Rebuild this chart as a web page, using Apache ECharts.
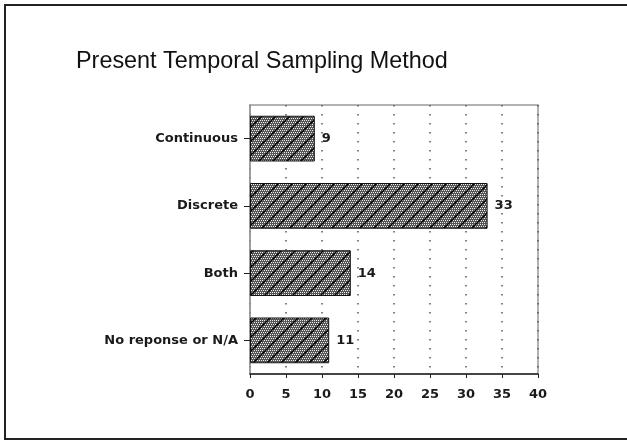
<!DOCTYPE html>
<html>
<head>
<meta charset="utf-8">
<script src="https://cdn.jsdelivr.net/npm/echarts@6/dist/echarts.min.js"></script>
<style>
  html, body { margin: 0; padding: 0; background: #fff; }
  #chart { width: 627px; height: 441px; }
</style>
</head>
<body>
<div id="chart"></div>
<script>
// Survey responses: how sampling is currently done in time
const categories = ['Continuous', 'Discrete', 'Both', 'No reponse or N/A'];
const counts = [9, 33, 14, 11];
const xTicks = [0, 5, 10, 15, 20, 25, 30, 35, 40];

// Halftone fill with diagonal hatching, drawn once into a small tile
function hatchTile() {
  const s = 14;
  const c = document.createElement('canvas');
  c.width = s; c.height = s;
  const g = c.getContext('2d');
  g.fillStyle = '#555';
  g.fillRect(0, 0, s, s);
  g.fillStyle = '#eee';
  for (let y = 0; y < s; y += 2) {
    for (let x = (y / 2) % 2 ? 1 : 0; x < s; x += 2) {
      g.fillRect(x, y, 1, 1);
    }
  }
  g.strokeStyle = '#000';
  g.lineWidth = 1.5;
  g.beginPath();
  g.moveTo(-2, s + 2); g.lineTo(s + 2, -2);
  g.moveTo(-2, 2); g.lineTo(2, -2);
  g.moveTo(s - 2, s + 2); g.lineTo(s + 2, s - 2);
  g.stroke();
  return c;
}

const chart = echarts.init(document.getElementById('chart'), null, { renderer: 'canvas' });
const labelFont = { fontFamily: 'DejaVu Sans', fontWeight: 'bold', fontSize: 13, color: '#1a1a1a' };

chart.setOption({
  animation: false,
  backgroundColor: '#fff',
  title: {
    text: 'Present Temporal Sampling Method',
    left: 76,
    top: 50,
    padding: 0,
    textStyle: { fontFamily: 'Liberation Sans', fontSize: 23.4, fontWeight: 'normal', color: '#111' }
  },
  graphic: [{
    type: 'rect',
    shape: { x: 5, y: 5, width: 660, height: 434 },
    style: { fill: 'none', stroke: '#222', lineWidth: 2 },
    silent: true,
    z: -1
  }],
  grid: {
    left: 250, right: 89, top: 105, bottom: 67,
    show: true, borderColor: '#999', borderWidth: 1.5, backgroundColor: 'transparent'
  },
  xAxis: {
    type: 'value',
    min: 0, max: 40, interval: 5,
    axisLine: { show: true, lineStyle: { color: '#222', width: 1.5 } },
    axisTick: { show: true, length: 4, lineStyle: { color: '#222' } },
    axisLabel: Object.assign({ margin: 14, formatter: v => xTicks.includes(v) ? String(v) : '' }, labelFont),
    splitLine: { show: true, lineStyle: { color: '#555', width: 1.5, type: [1.5, 7.5] } }
  },
  yAxis: {
    type: 'category',
    inverse: true,
    data: categories,
    axisLine: { show: true, lineStyle: { color: '#999', width: 1.5 } },
    axisTick: { show: true, alignWithLabel: true, length: 6, lineStyle: { color: '#222' } },
    axisLabel: Object.assign({ margin: 12 }, labelFont)
  },
  series: [{
    type: 'bar',
    data: counts,
    barCategoryGap: '32%',
    itemStyle: {
      color: { image: hatchTile(), repeat: 'repeat' },
      borderColor: '#111',
      borderWidth: 1
    },
    label: Object.assign({ show: true, position: 'right', distance: 7 }, labelFont)
  }]
});
</script>
</body>
</html>
